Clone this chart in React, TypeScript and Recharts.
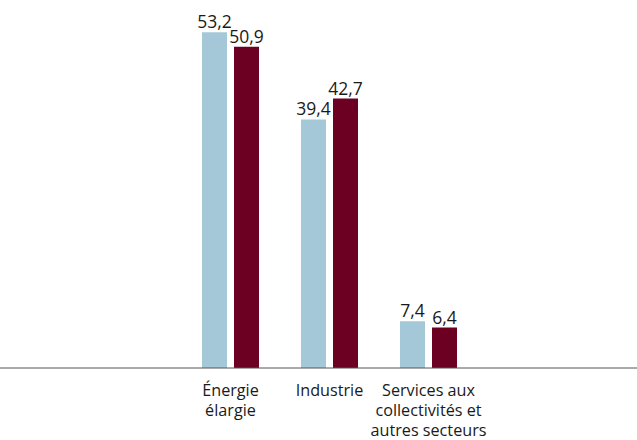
import { Bar, BarChart, XAxis, YAxis, LabelList } from 'recharts';

const categories = ['Énergie\nélargie', 'Industrie', 'Services aux\ncollectivités et\nautres secteurs'];
const seriesA = [53.2, 39.4, 7.4];
const seriesB = [50.9, 42.7, 6.4];

const data = categories.map((name, i) => ({ name, a: seriesA[i], b: seriesB[i] }));

const FONT = '"Open Sans", Lato, sans-serif';
const fmt = (v: any) => String(v).replace('.', ',');

function MultiLineTick(props: any) {
  const { x, y, payload } = props;
  const lines = String(payload.value).split('\n');
  return (
    <text x={x} y={y} textAnchor="middle" fontFamily={FONT} fontSize={16.2} fill="#1a1a1a">
      {lines.map((line, i) => (
        <tspan key={i} x={x} dy={i === 0 ? 20 : 20}>
          {line}
        </tspan>
      ))}
    </text>
  );
}

export default function App() {
  return (
    <div style={{ position: 'fixed', left: 0, top: 0, background: '#fff' }}>
      <BarChart
        width={637}
        height={440}
        data={data}
        margin={{ top: 21, right: 0, left: 0, bottom: 0 }}
        barSize={25}
        barGap={7}
      >
        <XAxis
          dataKey="name"
          interval={0}
          height={72}
          padding={{ left: 181, right: 159 }}
          axisLine={{ stroke: '#555', strokeWidth: 1 }}
          tickLine={false}
          tick={<MultiLineTick />}
        />
        <YAxis hide domain={[0, 55]} />
        <Bar dataKey="a" fill="#a4c8d8" isAnimationActive={false}>
          <LabelList dataKey="a" position="top" offset={4} formatter={fmt} fill="#1a1a1a" fontSize={17.5} fontFamily={FONT} />
        </Bar>
        <Bar dataKey="b" fill="#6b0022" isAnimationActive={false}>
          <LabelList dataKey="b" position="top" offset={4} formatter={fmt} fill="#1a1a1a" fontSize={17.5} fontFamily={FONT} />
        </Bar>
      </BarChart>
    </div>
  );
}
